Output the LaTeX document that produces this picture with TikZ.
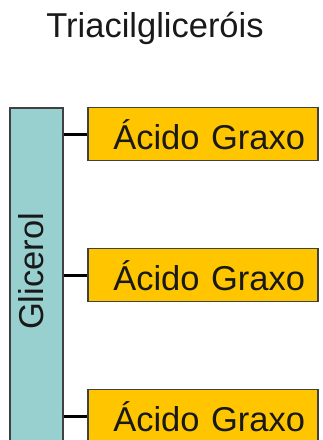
\documentclass[tikz,border=0pt]{standalone}
\usepackage{fontspec}
\setmainfont{Liberation Sans}
\usetikzlibrary{positioning}
\definecolor{glyc}{RGB}{152,207,207}
\definecolor{acid}{RGB}{255,198,0}
\tikzset{
	treenode/.style = {
		align=center,
		inner sep=0pt,
		font=\fontsize{34.5}{40}\selectfont,
		text=black!90
	},
	node_glyc/.style = {
		treenode,
		rectangle,
		draw=black!75,
		fill=glyc,
		line width=1.5pt,
		minimum width=53pt,
		minimum height=340pt
	},
	node_acid/.style = {
		treenode,
		rectangle,
		draw=black!75,
		fill=acid,
		line width=1.5pt,
		minimum width=230pt,
		minimum height=53pt,
		text width=204pt,
		align=right,
		text height=31pt,
		text depth=0pt
	},
	link/.style = {
		black,
		line width=3pt
	},
}

\begin{document}
\begin{tikzpicture}[x=1pt,y=-1pt]
\useasboundingbox (0,0) rectangle (322,440);
\node [treenode, anchor=base] (title) at (155,37) {Triacilgliceróis};
\node [node_glyc, anchor=north west] (glyc) at (9,107) {};
\node [treenode, rotate=90, anchor=base] (glyclabel) at (43,271.5) {Glicerol};
\foreach \i/\y in {1/134, 2/275, 3/416} {
	\node [node_acid] (acid\i) at (203,\y) {Ácido Graxo};
	\draw [link] (glyc.east |- acid\i.west) -- (acid\i.west);
}
\end{tikzpicture}
\end{document}
